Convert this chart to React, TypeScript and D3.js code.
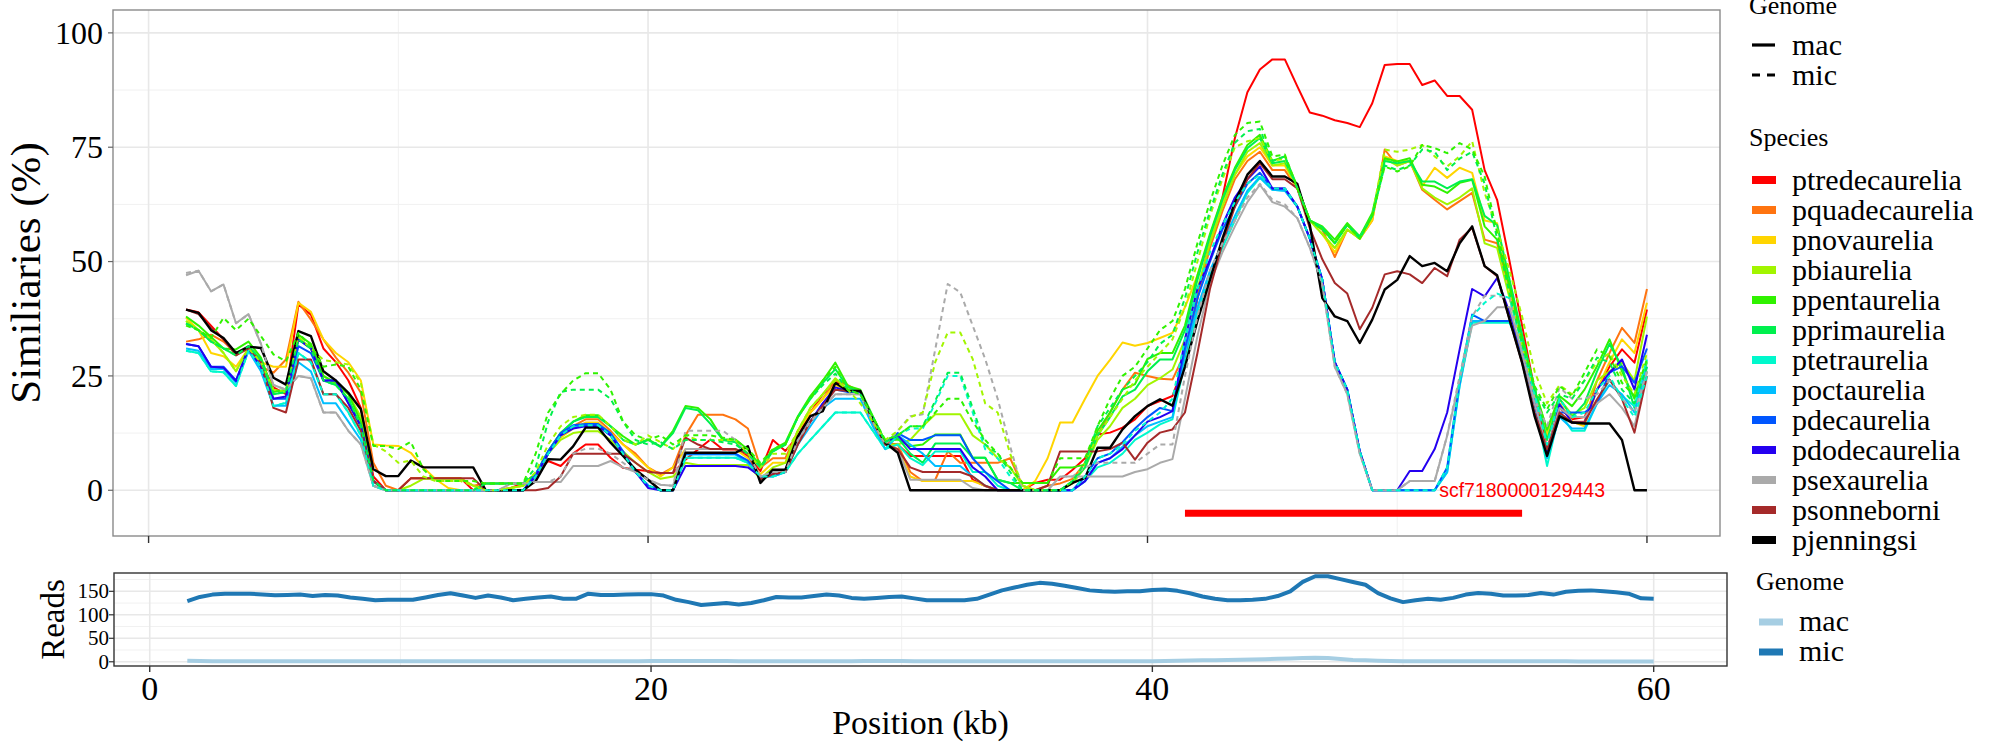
import React from 'react';
import * as d3 from 'd3';

// ---------- window positions (kb) ----------
const positions = [
  1.5, 2, 2.5, 3, 3.5, 4, 4.5, 5, 5.5, 6,
  6.5, 7, 7.5, 8, 8.5, 9, 9.5, 10, 10.5, 11,
  11.5, 12, 12.5, 13, 13.5, 14, 14.5, 15, 15.5, 16,
  16.5, 17, 17.5, 18, 18.5, 19, 19.5, 20, 20.5, 21,
  21.5, 22, 22.5, 23, 23.5, 24, 24.5, 25, 25.5, 26,
  26.5, 27, 27.5, 28, 28.5, 29, 29.5, 30, 30.5, 31,
  31.5, 32, 32.5, 33, 33.5, 34, 34.5, 35, 35.5, 36,
  36.5, 37, 37.5, 38, 38.5, 39, 39.5, 40, 40.5, 41,
  41.5, 42, 42.5, 43, 43.5, 44, 44.5, 45, 45.5, 46,
  46.5, 47, 47.5, 48, 48.5, 49, 49.5, 50, 50.5, 51,
  51.5, 52, 52.5, 53, 53.5, 54, 54.5, 55, 55.5, 56,
  56.5, 57, 57.5, 58, 58.5, 59, 59.5, 60,
];

const speciesNames = [
  'ptredecaurelia', 'pquadecaurelia', 'pnovaurelia', 'pbiaurelia', 'ppentaurelia',
  'pprimaurelia', 'ptetraurelia', 'poctaurelia', 'pdecaurelia', 'pdodecaurelia',
  'psexaurelia', 'psonneborni', 'pjenningsi',
];
const speciesColors = [
  '#FF0000', '#FF7410', '#FFD500', '#A2F500', '#30F200',
  '#00F04E', '#00F8CC', '#00BEFF', '#0056FF', '#2400F0',
  '#AAAAAA', '#A52A2A', '#000000',
];
const genomeNames = ['mac', 'mic'];

// ---------- similarity (%) per species, mac genome ----------
const ptredecaureliaMac = [
  39.5, 38.9, 36, 33, 30, 31, 28, 22.5, 21, 40.6, 38.4, 31, 28, 24, 18, 3, 0,
  0, 2.6, 2.6, 2.6, 2.6, 2.6, 0, 0, 0, 0.5, 1.5, 3.5, 6.4, 5.3, 8, 10, 10, 7.1, 4.9, 4.5, 4.2, 3.8, 3.8, 6.7, 8.9, 11.1, 8.9, 8.9, 7.5, 4.2, 11,
  8.6, 11.8, 17, 21, 24, 22, 21.3, 15, 10.4, 10, 7.5, 7.5, 7.5, 7.5, 7.5, 2.3, 0.9, 0, 0, 0, 1.6, 2.3, 2.3, 4.5, 7, 12.2, 12.6, 13.7, 15.5, 18.4,
  19.5, 20.6, 28, 42, 55, 64, 77, 87, 92, 94.2, 94.2, 88.3, 82.6, 81.9, 80.9, 80.3, 79.4, 84.6, 93, 93.2,
  93.2, 88.6, 89.6, 86.2, 86.2, 83.2, 70, 63.5, 50, 36, 22, 9, 18, 15.5, 16, 22, 27, 30.8, 27.9, 39.5,
];
const pquadecaureliaMac = [
  32.5, 33, 34, 32.5, 30, 31, 27, 25.7, 28.6, 41.2, 37.3, 33, 29, 25.7, 21.3, 6, 1,
  0, 2.6, 2.6, 2.6, 2.6, 2.6, 1, 1.5, 1.5, 1.5, 1.5, 3, 8, 12, 14, 15.5, 15.5, 13, 10, 8, 5, 3.5, 5, 12, 16.5, 16.5, 16.5, 15.5, 13.5, 5, 7,
  7, 13, 17, 20, 24, 23, 21.5, 15.5, 10, 10, 4, 2, 2.3, 8.5, 6, 6, 6, 6, 7, 1, 0, 1, 1.5, 2.5, 6, 12, 17, 22, 25.7, 25,
  24.4, 24.2, 30, 42, 53, 61, 68, 72, 74, 70, 70, 66, 59, 57, 51, 57, 55, 59, 74.5, 71,
  72, 65.7, 63.5, 61.4, 63.2, 65, 54.8, 54, 44, 33, 22, 12, 19, 15, 15, 24, 30, 35.5, 32.2, 44,
];
const pnovaureliaMac = [
  37.7, 35, 30, 29.3, 27, 31, 28, 27, 27, 41, 39, 33, 30, 28, 24, 10, 9.8,
  9.7, 8.2, 5, 2.4, 0.5, 0, 0, 0, 0, 0.5, 1, 3, 8, 11.5, 13.5, 14.8, 14.8, 12.5, 10, 7.5, 5, 3, 5, 9, 9, 9, 9, 9, 7, 3.5, 6,
  6, 13, 17, 20, 23, 22, 21.5, 15, 10, 9, 3, 2, 2, 2, 2, 2, 1, 0, 0, 0, 2, 7, 14.8, 14.8, 20, 25, 28.5, 32.3, 31.6, 32.2,
  33.3, 34.4, 40, 47, 55, 63, 69, 73, 75, 71, 71, 66, 59, 56, 52, 57, 55, 59, 73, 72,
  72, 66.5, 70.5, 68.3, 70.5, 69.4, 59, 58.4, 44, 32, 21, 12, 19, 15, 14, 22, 28, 33, 30, 41,
];
const pbiaureliaMac = [
  37, 35, 33, 30, 26, 31, 28, 22, 21.5, 33.5, 31, 25, 23, 21, 16, 2, 0,
  0, 1, 2.5, 2.5, 2.5, 2.5, 1, 0, 0, 0.5, 1, 3, 8, 11, 12.5, 12.9, 12.9, 11, 8.5, 6, 4, 2.5, 3, 6, 5.5, 5.5, 5.5, 5.5, 5.5, 2.5, 5,
  6, 13, 18, 21, 24.5, 22, 21.5, 15, 10, 10, 11, 14, 16.6, 16.6, 16.6, 12, 10, 7, 5, 1, 0, 0, 0, 1.5, 5, 11, 14, 18, 20, 23,
  24.5, 26.4, 33, 44, 54, 62, 69, 74, 75.9, 71, 71.5, 66, 59, 56, 53, 57, 55, 60, 72.5, 71,
  72, 66, 64, 62.5, 64, 66, 54, 53, 42, 32, 22, 13, 20, 16.5, 18, 24, 26, 28, 24, 38,
];
const ppentaureliaMac = [
  38, 36, 33.5, 31, 30.8, 32.5, 29, 21.5, 22, 34, 32, 25, 23.5, 21, 15, 2, 0,
  0, 0, 0, 0, 0, 0, 0, 1.5, 1.5, 1.5, 1.5, 3.5, 8.5, 12.5, 15, 16.4, 16.4, 14, 11.8, 10, 11.1, 9.6, 13, 18.4, 18, 15.5, 11.1, 11.1, 8.9, 5.3, 8.9,
  10.4, 16.2, 20.6, 24, 27.9, 22.8, 22, 16.2, 10.7, 11.1, 9.6, 10, 12.2, 12.2, 12.2, 7.1, 7.1, 2.3, 1.6, 1.6, 1.6, 1.6, 5, 5, 5.6, 13, 17, 22, 23.2, 28.7,
  30, 30, 36, 47, 56, 64, 70.5, 75.5, 77.7, 72, 73, 66.4, 59, 57.7, 54.8, 58.4, 55.5, 60.6, 72.6, 71.9,
  72.6, 66.8, 66.4, 65, 67.2, 67.9, 57.7, 54.8, 44.6, 33.7, 22, 13.3, 20.6, 18.4, 22, 27.1, 33, 26, 20, 28,
];
const pprimaureliaMac = [
  36.5, 35, 32.5, 31, 29.5, 31.5, 28.5, 21, 21.5, 33, 31, 24, 23, 20, 14, 2, 0,
  0, 0, 0, 0, 0, 0, 0, 1.5, 1.5, 1.5, 1.5, 3.5, 8.5, 12.5, 15, 16, 16, 14, 11, 10, 11, 9.5, 12.5, 18, 17.5, 14.5, 11, 10.5, 8, 5, 8.5,
  10, 16, 20, 23.5, 26.5, 22.5, 21.5, 16, 10.5, 11.5, 8, 6, 10.2, 10.2, 10.2, 7.1, 7.1, 2.3, 1.6, 0, 0, 0, 0, 2, 5, 12, 16, 20.5, 22, 26,
  28.6, 28.6, 35, 46, 55.5, 63.5, 70, 74.8, 77, 71.5, 72, 66.4, 59, 57.5, 54, 58, 55.5, 60, 72, 71.5,
  72, 67.5, 67.5, 66, 67.5, 68, 60, 58, 46, 34, 22, 11, 20, 16, 19, 26, 32, 27, 18, 26,
];
const ptetraureliaMac = [
  30.5, 30, 26, 25.8, 22.8, 30.5, 27, 18.4, 19.1, 30, 28, 21, 21, 17, 12, 1, 0,
  0, 0, 0, 0, 0, 0, 0, 0, 0, 0, 0, 3, 8, 12, 14, 14.2, 14.2, 12, 8, 4, 1, 0, 0, 7.1, 7.1, 7.1, 7.1, 7.1, 6, 3, 3,
  4, 8, 11, 14, 17, 17, 17, 13, 9, 10, 7, 5.5, 8.5, 8.5, 8.5, 4, 4, 1, 0, 0, 0, 0, 0, 0, 2, 5, 6, 8, 11, 12.6,
  14.4, 15.5, 28, 39, 47, 53, 59, 65, 68.3, 65.7, 65.5, 62, 55, 46, 28, 22, 8.5, 0, 0, 0,
  0, 0, 0, 3.9, 22.8, 36.6, 36.6, 36.6, 36.6, 30, 19, 5.3, 17, 13, 13, 19, 24.2, 20.6, 18.4, 28.6,
];
const poctaureliaMac = [
  31, 30.5, 26.5, 26.5, 23.5, 30.5, 26, 18.5, 18.5, 28, 26, 19, 19, 15, 11, 1, 0,
  0, 0, 0, 0, 0, 0, 0, 0, 0, 0, 0, 3, 8, 12, 14, 14.2, 14.2, 12, 8, 4, 1, 0, 0, 7.8, 7.8, 7.8, 7.8, 7.8, 6, 3, 3,
  4, 10, 14, 18, 20, 20, 20, 14, 9, 12, 10, 8, 5.3, 5.3, 5.3, 3, 1, 0, 0, 0, 0, 0, 0, 0, 2, 6, 7, 9.5, 12, 14,
  15, 16, 30, 40, 48, 54, 60, 65.5, 68.5, 65.7, 65.5, 62, 55, 46, 28, 22, 8.5, 0, 0, 0,
  0, 0, 0, 4, 23, 37, 37, 37, 37, 30, 19, 7, 16, 13.5, 13.5, 19, 23, 21, 17, 27,
];
const pdecaureliaMac = [
  32, 31.5, 27, 27, 24, 31, 27, 20, 20, 31.5, 30, 24, 24, 19, 14, 2, 0,
  0, 0, 0, 0, 0, 0, 0, 0, 0, 0, 0, 3.5, 8.5, 12.5, 14.2, 14.5, 14.5, 12.5, 8.5, 4, 1, 0, 0, 8, 8, 8, 8, 8, 6.5, 3, 3.5,
  4.5, 11, 15, 19, 22, 21.5, 21.5, 15, 10.5, 12.5, 11, 11, 12, 12, 12, 7, 4, 2, 0, 0, 0, 0, 0, 0, 3, 7, 8, 10.5, 13.5, 16,
  18, 17.3, 31, 42, 50, 57, 62, 67, 69.4, 66, 66, 62, 55, 46, 28, 22, 8.5, 0, 0, 0,
  0, 0, 0, 5, 24, 38.4, 37, 37, 37, 30, 19, 8.5, 17, 17, 17, 19, 25.7, 27.1, 23.5, 31,
];
const pdodecaureliaMac = [
  32, 31.5, 27, 26.8, 23.9, 31, 27, 20, 20.5, 33, 31, 24, 24, 19, 14, 2, 0,
  0, 0, 0, 0, 0, 0, 0, 0, 0, 0, 0, 3, 8, 12, 13.5, 14, 14, 12, 8, 4, 0.5, 0, 0, 5.3, 5.3, 5.3, 5.3, 5.3, 5, 3, 3.5,
  4, 11, 15, 19, 22.5, 21.7, 21.7, 15, 10.4, 12, 9, 9, 9, 9, 9, 5, 3, 0, 0, 0, 0, 0, 0, 0, 2, 6, 7, 9, 12, 15,
  16, 17.3, 33, 44, 50.4, 58, 64, 68, 70.8, 66, 66, 62, 55, 46, 28, 22, 8.5, 0, 0, 0,
  4.2, 4.2, 9, 17, 30.8, 44, 42.4, 46.4, 38.8, 30, 19, 8.2, 18.8, 14.8, 14.8, 22, 25.7, 28.6, 22, 34,
];
const psexaureliaMac = [
  47, 48, 43.5, 45, 36.5, 38.5, 32, 23, 22, 25, 24.5, 17, 17, 13, 10, 1, 0,
  0, 0, 0, 0, 0, 0, 0, 0, 0, 1.5, 1.5, 1.8, 1.8, 1.8, 5.3, 5.3, 5.3, 6.4, 5, 4, 2.3, 1.2, 1, 9, 9, 9, 9, 9, 8, 3, 4,
  4, 11, 15, 18, 21, 21, 21, 15, 10, 9, 2.3, 2.3, 2.3, 2.3, 2.3, 0.5, 0, 0, 0, 0, 0, 0, 3, 3, 3, 3, 3, 3, 4, 4.6,
  6, 6.8, 20, 33.7, 45.3, 52, 57.7, 63, 66.8, 63, 62, 59.5, 53, 45, 27, 21, 8, 0, 0, 0,
  2, 2, 2, 11.9, 24.2, 36, 37, 40, 40, 30, 19, 9, 18, 16, 16, 19, 21, 18, 14, 26,
];
const psonneborniMac = [
  39.5, 38.5, 35.5, 33, 29.5, 31, 28, 18, 17, 28.6, 28.6, 21, 21, 18, 13, 2, 0,
  0, 2.6, 2.6, 2.6, 2.6, 2.6, 2.6, 0, 0, 0, 0, 0, 0.5, 3, 8, 8, 8, 8, 8, 6, 4, 3.8, 3.8, 11.5, 10, 9, 9, 9, 8, 2.3, 3.5,
  4, 10, 15, 18.5, 22, 21.7, 21.7, 15, 10, 9, 5, 4, 4, 4, 4, 3, 1, 0, 0, 0, 0, 1, 8.5, 8.5, 8.5, 8.5, 9, 10.4, 6.7, 10.4,
  12.6, 13.3, 17, 30, 44, 54, 62, 68, 71.5, 68, 68, 66, 57.3, 50.5, 45.3, 43, 35.2, 39.9, 47.2, 47.9,
  47.2, 45.3, 48.6, 46.8, 54.8, 57.4, 49, 46.8, 37.3, 27.9, 17, 9, 17, 14.8, 14.8, 19.9, 24.2, 20, 12.6, 25,
];
const pjenningsiMac = [
  39.5, 38.8, 35, 33.3, 30, 31.4, 31.1, 24.6, 23.1, 34.8, 33.7, 26, 24, 21.3, 17.7, 4.6, 3.1,
  3.1, 6.5, 5, 5, 5, 5, 5, 0, 0, 0, 0, 2, 6.8, 6.7, 9.6, 13.7, 13.7, 10.4, 7.5, 4.5, 2.3, 0, 0, 8.2, 8.2, 8.2, 8.2, 8.2, 9.6, 1.6, 4.5,
  4.5, 11.8, 16.2, 17.3, 23.5, 21.7, 21.7, 15.5, 10.4, 8.2, 0, 0, 0, 0, 0, 0, 0, 0, 0, 0, 0, 0, 0, 1.6, 2.7, 9.3, 9.3, 13.3, 16.2, 18.4,
  19.9, 18.5, 27, 37, 46, 55, 63, 69, 72, 68.6, 68.6, 67, 58, 42, 38, 37, 32.2, 37.3, 43.9, 46,
  51.2, 49, 49.7, 47.9, 54, 57.7, 49, 47, 37.3, 27.9, 16.2, 7.5, 16.2, 14.8, 14.6, 14.6, 14.6, 11, 0, 0,
];

// ---------- similarity (%) per species, mic genome (where distinguishable) ----------
const pbiaureliaMic = [
  37, 35, 33, 30, 26, 31, 28, 22, 21.5, 33.5, 31, 28.5, 28, 27.5, 23.5, 10, 8.5,
  6, 6.5, 3, 2, 2, 2, 1, 0, 0, 0.5, 1, 4, 10, 14, 16, 16.5, 16.5, 14, 11, 10, 12, 10.5, 9, 12, 11, 11, 11, 11, 8, 5, 8,
  8, 13, 18, 21, 24, 22, 19, 15, 11, 13, 16, 17, 28, 34.5, 34.5, 28.7, 19, 17, 8, 1, 0, 0, 0, 2, 6, 12, 16, 20, 24, 27,
  30, 33, 40, 50, 60, 68, 75, 76.3, 77, 72, 72.5, 66, 59, 56, 53, 57, 55, 60, 74.5, 74,
  74.5, 75.5, 73, 70.8, 73, 76.3, 65, 57, 48, 38, 26, 19, 23, 21, 24, 28, 30, 25, 21, 30,
];
const ppentaureliaMic = [
  36, 35, 33.3, 37.7, 35, 37.5, 33.7, 29.7, 28.2, 34.4, 31.5, 27, 27.5, 27, 22, 9.7, 9.7,
  9, 10.6, 4.6, 2, 2, 2, 2, 1.5, 1.5, 1.5, 1.5, 8, 17, 21, 24, 25.6, 25.6, 22, 15, 12, 11, 12, 10, 12, 12, 12, 11.5, 11, 9, 6, 9,
  10, 16, 20, 24, 27, 22, 21, 16, 11, 12, 14, 14, 17, 20, 20, 15, 11, 8, 5, 1.6, 1.6, 1.6, 7, 7, 7, 14, 20, 25, 27, 31,
  35, 37, 44, 54, 63, 71, 77.7, 80.3, 80.6, 73, 73.4, 66, 59, 57, 54, 58, 55, 60, 70.8, 69.7,
  70.8, 75.5, 74.8, 73.7, 75.9, 74.5, 68.6, 56.3, 44.6, 33, 22.8, 17.7, 22.8, 20.6, 25.7, 30.8, 29.3, 23.5, 20.6, 28.6,
];
const pprimaureliaMic = [
  36.5, 35, 32.5, 31, 29.5, 31.5, 28.5, 21, 21.5, 33, 31, 24, 23, 20, 14, 2, 0,
  0, 0, 0, 0, 0, 0, 0, 1.5, 1.5, 1.5, 1.5, 5, 15, 21.5, 22, 22, 22, 20, 15, 11, 10, 10.5, 9, 11, 11, 11, 10.5, 10, 8, 5, 8.5,
  10, 16, 20, 23, 25.5, 22, 21, 16, 10.5, 12, 14, 14, 19.5, 25.7, 25.7, 18, 10, 8, 4, 0, 0, 0, 0, 2, 6, 14, 18, 22, 25, 28,
  32, 34, 42, 52, 61, 69, 76, 78.5, 79, 72, 73, 66, 59, 57, 54, 58, 55, 60, 71, 70,
  71, 74.5, 74, 70, 72.5, 74, 67, 55, 43, 32, 22, 17, 21, 20, 24, 29, 28, 22, 19, 27,
];
const ptetraureliaMic = [
  30.5, 30, 26, 25.8, 22.8, 30.5, 27, 18.4, 19.1, 30, 28, 21, 21, 17, 12, 1, 0,
  0, 0, 0, 0, 0, 0, 0, 0, 0, 0, 0, 3, 8, 12, 14, 14.2, 14.2, 12, 8, 4, 1, 0, 0, 7.1, 7.1, 7.1, 7.1, 7.1, 6, 3, 3,
  4, 8, 11, 14, 17, 17, 17, 13, 9, 12, 13.5, 13.5, 19, 25, 25, 17, 9, 7, 3, 0, 0, 0, 0, 0, 3, 7, 8, 10, 13, 15,
  17, 20, 33, 44, 52, 58, 63, 67, 69, 66, 66, 62, 55, 46, 28, 22, 8.5, 0, 0, 0,
  0, 0, 0, 5, 24, 38, 41, 43, 42, 32, 21, 10, 20, 16, 17, 22, 25, 20, 16, 25,
];
const psexaureliaMic = [
  47.5, 48, 43.5, 45, 36.5, 38.5, 32, 23, 22, 25, 24.5, 17, 17, 13, 10, 1, 0,
  0, 0, 0, 0, 0, 0, 0, 0, 0, 1.5, 1.5, 1.8, 1.8, 3, 8, 9.1, 9.1, 8, 6, 4, 2.3, 1.2, 1, 13, 13, 13, 13, 11, 8, 3, 4,
  4, 11, 15, 18, 21, 21, 21, 15, 10, 13, 16.2, 16.6, 30.8, 45.1, 43.3, 36, 28.7, 20, 9.6, 0, 0, 0, 3, 3, 5, 6, 6, 6, 6, 8,
  10, 10, 25, 38, 48, 54, 59, 64, 67, 63.5, 62.5, 59.5, 53, 45, 27, 21, 8, 0, 0, 0,
  2, 2, 2, 12, 25, 38, 42.5, 42.5, 42, 30, 20, 14, 22.5, 20, 20, 21, 24, 20, 17, 26,
];

// ---------- reads per genome ----------
const readsMac = [
  2, 1.5, 1, 1, 1, 1, 1, 1, 1, 1,
  1, 1, 1, 1, 1, 1, 1, 1, 1, 1,
  1, 1, 1, 1, 1, 1, 1, 1, 1, 1,
  1, 1, 1, 1, 1, 1, 1, 1.5, 1.5, 1.5,
  1.5, 1.5, 1.5, 1.5, 1, 1, 1, 1, 1, 1,
  1, 1, 1, 1, 1.5, 1.5, 1.5, 1.5, 1, 1,
  1, 1, 1, 1, 1, 1, 1, 1, 1, 1,
  1, 1, 1, 1, 1, 1, 1, 1, 1.5, 2,
  2.5, 3, 3.5, 4, 4.5, 5, 5.5, 6.5, 7, 8,
  8.5, 8, 6, 4, 3, 2, 1.5, 1, 1, 1,
  1, 1, 1, 1, 1, 1, 1, 1, 1, 1,
  1, 0.5, 0.5, 0.5, 0.5, 0.5, 0.5, 0.5,
];
const readsMic = [
  129, 138, 143, 145, 145, 145, 143, 141.5, 142, 143,
  140, 142, 141, 137, 134, 131, 132, 132, 132, 137,
  142, 146, 141, 136, 141, 137, 131, 134, 137, 139,
  134, 134, 145, 142, 142, 143, 144, 144, 141, 132,
  127, 121, 123, 125, 122, 125, 131, 138, 137, 137,
  140, 143, 141, 136, 134, 136, 138, 139, 135, 131,
  131, 131, 131, 134, 143, 152, 158, 164, 168, 166,
  162, 157, 152, 150, 149, 150, 150, 153, 154, 151,
  146, 139, 134, 131, 131, 132, 134, 140, 150, 170,
  182, 182, 176, 170, 164, 146, 135, 127, 131, 134,
  132, 136, 143, 146.5, 145, 141, 141, 142, 146.5, 143,
  149, 151, 152, 150, 148, 145, 135, 134,
];

// ---------- axes / annotation ----------
const xTicks = [0, 20, 40, 60];
const xMinorTicks = [10, 30, 50];
const simTicks = [0, 25, 50, 75, 100];
const simMinorTicks = [12.5, 37.5, 62.5, 87.5];
const readTicks = [0, 50, 100, 150];
const readMinorTicks = [25, 75, 125, 175];
const scaffoldName = 'scf7180000129443';
const scaffoldStart = 41.5;
const scaffoldEnd = 55;
const scaffoldLevel = -5;
const readColors = ['#A6CEE3', '#1F78B4'];

const macSeries = [
  ptredecaureliaMac, pquadecaureliaMac, pnovaureliaMac, pbiaureliaMac, ppentaureliaMac,
  pprimaureliaMac, ptetraureliaMac, poctaureliaMac, pdecaureliaMac, pdodecaureliaMac,
  psexaureliaMac, psonneborniMac, pjenningsiMac,
];
const micSeries: { species: string; values: number[] }[] = [
  { species: 'psexaurelia', values: psexaureliaMic },
  { species: 'pbiaurelia', values: pbiaureliaMic },
  { species: 'ptetraurelia', values: ptetraureliaMic },
  { species: 'pprimaurelia', values: pprimaureliaMic },
  { species: 'ppentaurelia', values: ppentaureliaMic },
];

const SERIF = '"Liberation Serif", "Times New Roman", serif';
const SANS = '"Liberation Sans", Arial, sans-serif';

const topP = { left: 113, right: 1720, top: 10, bottom: 536 };
const botP = { left: 114, right: 1727, top: 573, bottom: 666 };

export default function App() {
  const xPad = (d3.max(positions)! - d3.min(positions)!) * 0.05;
  const xDomain: [number, number] = [d3.min(positions)! - xPad, d3.max(positions)! + xPad];
  const xTop = d3.scaleLinear().domain(xDomain).range([topP.left, topP.right]);
  const yTop = d3.scaleLinear().domain([-10, 105]).range([topP.bottom, topP.top]);
  const xBot = d3.scaleLinear().domain(xDomain).range([botP.left, botP.right]);
  const yBot = d3.scaleLinear().domain([-9, 189]).range([botP.bottom, botP.top]);

  const topLine = d3
    .line<number>()
    .x((_, i) => xTop(positions[i]))
    .y((v) => yTop(v));
  const botLine = d3
    .line<number>()
    .x((_, i) => xBot(positions[i]))
    .y((v) => yBot(v));

  const colorOf = (s: string) => speciesColors[speciesNames.indexOf(s)];

  return (
    <svg
      width={2000}
      height={750}
      style={{ position: 'absolute', left: 0, top: 0, background: '#fff' }}
      fontFamily={SERIF}
    >
      <defs>
        <clipPath id="clipTop">
          <rect x={topP.left} y={topP.top} width={topP.right - topP.left} height={topP.bottom - topP.top} />
        </clipPath>
        <clipPath id="clipBot">
          <rect x={botP.left} y={botP.top} width={botP.right - botP.left} height={botP.bottom - botP.top} />
        </clipPath>
      </defs>
      <rect x={0} y={0} width={2000} height={750} fill="#fff" />

      {/* ---------------- TOP PANEL ---------------- */}
      <g>
        {simMinorTicks.map((t) => (
          <line key={'smn' + t} x1={topP.left} x2={topP.right} y1={yTop(t)} y2={yTop(t)} stroke="#f1f1f1" strokeWidth={1} />
        ))}
        {xMinorTicks.map((t) => (
          <line key={'xmn' + t} x1={xTop(t)} x2={xTop(t)} y1={topP.top} y2={topP.bottom} stroke="#f1f1f1" strokeWidth={1} />
        ))}
        {simTicks.map((t) => (
          <line key={'smj' + t} x1={topP.left} x2={topP.right} y1={yTop(t)} y2={yTop(t)} stroke="#e8e8e8" strokeWidth={1.6} />
        ))}
        {xTicks.map((t) => (
          <line key={'xmj' + t} x1={xTop(t)} x2={xTop(t)} y1={topP.top} y2={topP.bottom} stroke="#e8e8e8" strokeWidth={1.6} />
        ))}
      </g>
      <g clipPath="url(#clipTop)" fill="none" strokeLinejoin="round">
        {macSeries.map((vals, k) => (
          <path
            key={'mac' + k}
            d={topLine(vals) ?? ''}
            stroke={speciesColors[k]}
            strokeWidth={speciesNames[k] === 'pjenningsi' ? 2.4 : 2}
          />
        ))}
        {micSeries.map((s) => (
          <path
            key={'mic' + s.species}
            d={topLine(s.values) ?? ''}
            stroke={colorOf(s.species)}
            strokeWidth={2}
            strokeDasharray="5,4"
          />
        ))}
        <line
          x1={xTop(scaffoldStart)}
          x2={xTop(scaffoldEnd)}
          y1={yTop(scaffoldLevel)}
          y2={yTop(scaffoldLevel)}
          stroke="#FF0000"
          strokeWidth={7}
        />
        <text
          x={xTop(scaffoldEnd)}
          y={yTop(0)}
          dy="0.36em"
          textAnchor="middle"
          fontFamily={SANS}
          fontSize={19.5}
          fill="#FF0000"
          stroke="none"
        >
          {scaffoldName}
        </text>
      </g>
      <rect
        x={topP.left}
        y={topP.top}
        width={topP.right - topP.left}
        height={topP.bottom - topP.top}
        fill="none"
        stroke="#8a8a8a"
        strokeWidth={1.4}
      />
      {xTicks.map((t) => (
        <line key={'xtk' + t} x1={xTop(t)} x2={xTop(t)} y1={topP.bottom} y2={topP.bottom + 7} stroke="#333" strokeWidth={1.4} />
      ))}
      {simTicks.map((t) => (
        <g key={'ytk' + t}>
          <line x1={topP.left - 5} x2={topP.left} y1={yTop(t)} y2={yTop(t)} stroke="#666" strokeWidth={1.2} />
          <text x={103} y={yTop(t)} dy="0.34em" textAnchor="end" fontSize={32} fill="#000">
            {t}
          </text>
        </g>
      ))}
      <text
        transform={`translate(40, ${(topP.top + topP.bottom) / 2}) rotate(-90)`}
        textAnchor="middle"
        fontSize={43}
        fill="#000"
      >
        Similiaries (%)
      </text>

      {/* ---------------- BOTTOM PANEL ---------------- */}
      <g>
        {readMinorTicks.map((t) => (
          <line key={'rmn' + t} x1={botP.left} x2={botP.right} y1={yBot(t)} y2={yBot(t)} stroke="#f1f1f1" strokeWidth={1} />
        ))}
        {xMinorTicks.map((t) => (
          <line key={'bxmn' + t} x1={xBot(t)} x2={xBot(t)} y1={botP.top} y2={botP.bottom} stroke="#f1f1f1" strokeWidth={1} />
        ))}
        {readTicks.map((t) => (
          <line key={'rmj' + t} x1={botP.left} x2={botP.right} y1={yBot(t)} y2={yBot(t)} stroke="#e8e8e8" strokeWidth={1.6} />
        ))}
        {xTicks.map((t) => (
          <line key={'bxmj' + t} x1={xBot(t)} x2={xBot(t)} y1={botP.top} y2={botP.bottom} stroke="#e8e8e8" strokeWidth={1.6} />
        ))}
      </g>
      <g clipPath="url(#clipBot)" fill="none" strokeLinejoin="round" strokeLinecap="butt">
        <path d={botLine(readsMac) ?? ''} stroke={readColors[0]} strokeWidth={4} />
        <path d={botLine(readsMic) ?? ''} stroke={readColors[1]} strokeWidth={4} />
      </g>
      <rect
        x={botP.left}
        y={botP.top}
        width={botP.right - botP.left}
        height={botP.bottom - botP.top}
        fill="none"
        stroke="#333"
        strokeWidth={1.4}
      />
      {xTicks.map((t) => (
        <g key={'bxtk' + t}>
          <line x1={xBot(t)} x2={xBot(t)} y1={botP.bottom} y2={botP.bottom + 6} stroke="#333" strokeWidth={1.4} />
          <text x={xBot(t)} y={700} textAnchor="middle" fontSize={34} fill="#000">
            {t}
          </text>
        </g>
      ))}
      {readTicks.map((t) => (
        <g key={'rtk' + t}>
          <line x1={botP.left - 5} x2={botP.left} y1={yBot(t)} y2={yBot(t)} stroke="#333" strokeWidth={1.2} />
          <text x={109} y={yBot(t)} dy="0.34em" textAnchor="end" fontSize={21} fill="#000">
            {t}
          </text>
        </g>
      ))}
      <text
        transform={`translate(64, ${(botP.top + botP.bottom) / 2}) rotate(-90)`}
        textAnchor="middle"
        fontSize={33}
        fill="#000"
      >
        Reads
      </text>
      <text x={(botP.left + botP.right) / 2} y={734} textAnchor="middle" fontSize={34} fill="#000">
        Position (kb)
      </text>

      {/* ---------------- LEGENDS ---------------- */}
      <g>
        <text x={1749} y={14} fontSize={26} fill="#000">
          Genome
        </text>
        {genomeNames.map((g, i) => (
          <g key={'lg' + g}>
            <line
              x1={1752}
              x2={1775}
              y1={45 + i * 30}
              y2={45 + i * 30}
              stroke="#000"
              strokeWidth={3.2}
              strokeDasharray={g === 'mic' ? '8,7' : undefined}
            />
            <text x={1792} y={55 + i * 30} fontSize={30} fill="#000">
              {g}
            </text>
          </g>
        ))}
        <text x={1749} y={146} fontSize={26} fill="#000">
          Species
        </text>
        {speciesNames.map((s, k) => (
          <g key={'ls' + s}>
            <rect x={1752} y={180 + k * 30 - 4} width={24} height={8} fill={speciesColors[k]} />
            <text x={1792} y={190 + k * 30} fontSize={30} fill="#000">
              {s}
            </text>
          </g>
        ))}
        <text x={1756} y={590} fontSize={26} fill="#000">
          Genome
        </text>
        {genomeNames.map((g, i) => (
          <g key={'lr' + g}>
            <rect x={1759} y={622 + i * 30 - 3.5} width={24} height={7} fill={readColors[i]} />
            <text x={1799} y={631 + i * 30} fontSize={30} fill="#000">
              {g}
            </text>
          </g>
        ))}
      </g>
    </svg>
  );
}
